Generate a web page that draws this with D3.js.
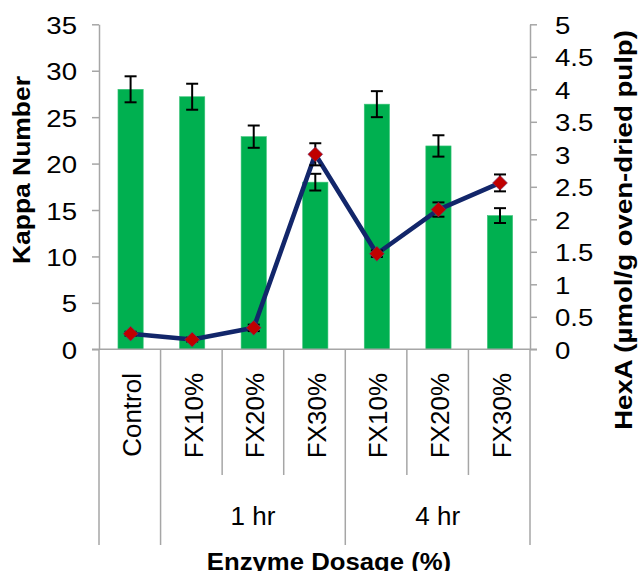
<!DOCTYPE html>
<html>
<head>
<meta charset="utf-8">
<script src="https://cdn.jsdelivr.net/npm/d3@7/dist/d3.min.js"></script>
<style>
  html, body { margin: 0; padding: 0; background: #fff; }
  svg { display: block; font-family: "Liberation Sans", Arial, sans-serif; }
</style>
</head>
<body>
<svg id="chart" width="639" height="571"></svg>
<script>
// ---- data ----
const categories = ["Control", "FX10%", "FX20%", "FX30%", "FX10%", "FX20%", "FX30%"];
const groupLabels = ["", "1 hr", "4 hr"];
const groupSizes = [1, 3, 3];
const kappa = [28.0, 27.2, 22.9, 18.0, 26.4, 21.9, 14.4];
const kappaErr = [1.4, 1.4, 1.2, 0.9, 1.4, 1.15, 0.8];
const hexa = [0.24, 0.15, 0.33, 3.0, 1.47, 2.15, 2.56];
const hexaErr = [0.03, 0.03, 0.05, 0.17, 0.05, 0.11, 0.13];
const leftTicks = [0, 5, 10, 15, 20, 25, 30, 35];
const rightTicks = [0, 0.5, 1, 1.5, 2, 2.5, 3, 3.5, 4, 4.5, 5];
const leftTitle = "Kappa Number";
const rightTitle = "HexA (µmol/g oven-dried pulp)";
const xTitle = "Enzyme Dosage (%)";

// ---- layout ----
const L = 99, R = 530, T = 24.3, B = 349.3;
const axisColor = "#a6a6a6";
const svg = d3.select("#chart");

const idx = d3.range(categories.length);
const x = d3.scaleBand().domain(idx).range([L, R]).paddingInner(0).paddingOuter(0);
const yL = d3.scaleLinear().domain([0, 35]).range([B, T]);
const yR = d3.scaleLinear().domain([0, 5]).range([B, T]);
const barW = x.bandwidth() * 0.41;
const cx = i => x(i) + x.bandwidth() / 2 + 0.8;

// bars
svg.append("g").selectAll("rect").data(idx).join("rect")
  .attr("x", i => cx(i) - barW / 2)
  .attr("y", i => yL(kappa[i]))
  .attr("width", barW)
  .attr("height", i => yL(0) - yL(kappa[i]))
  .attr("fill", "#00b050")
  .attr("stroke", "#3cc47a").attr("stroke-width", 0.6);

// bar error bars
const eb = svg.append("g").attr("stroke", "#000").attr("stroke-width", 2).attr("fill", "none");
idx.forEach(i => {
  const y1 = yL(kappa[i] + kappaErr[i]), y2 = yL(kappa[i] - kappaErr[i]);
  eb.append("line").attr("x1", cx(i)).attr("x2", cx(i)).attr("y1", y1).attr("y2", y2);
  eb.append("line").attr("x1", cx(i) - 6).attr("x2", cx(i) + 6).attr("y1", y1).attr("y2", y1);
  eb.append("line").attr("x1", cx(i) - 6).attr("x2", cx(i) + 6).attr("y1", y2).attr("y2", y2);
});

// left axis
const gL = svg.append("g").attr("transform", `translate(${L},0)`)
  .call(d3.axisLeft(yL).tickValues(leftTicks).tickSize(7).tickSizeOuter(0).tickFormat(d3.format("d")));
gL.select(".domain").attr("stroke", axisColor).attr("stroke-width", 1.5);
gL.selectAll(".tick line").attr("stroke", axisColor).attr("stroke-width", 1.5);
gL.selectAll(".tick text").remove();
gL.selectAll(".tick").append("text")
  .attr("transform", "translate(-22,9) scale(1.2,1)")
  .attr("text-anchor", "end").attr("fill", "#000")
  .style("font-size", "23px").style("font-family", "Liberation Sans, Arial, sans-serif")
  .text(d => d);

// right axis
const gR = svg.append("g").attr("transform", `translate(${R},0)`)
  .call(d3.axisRight(yR).tickValues(rightTicks).tickSize(7).tickSizeOuter(0));
gR.select(".domain").attr("stroke", axisColor).attr("stroke-width", 1.5);
gR.selectAll(".tick line").attr("stroke", axisColor).attr("stroke-width", 1.5);
gR.selectAll(".tick text").remove();
gR.selectAll(".tick").append("text")
  .attr("transform", "translate(25,9) scale(1.2,1)")
  .attr("text-anchor", "start").attr("fill", "#000")
  .style("font-size", "23px").style("font-family", "Liberation Sans, Arial, sans-serif")
  .text(d => d);

// x axis baseline
const gX = svg.append("g").attr("stroke", axisColor).attr("stroke-width", 1.5);
gX.append("line").attr("x1", L - 7).attr("x2", R + 7).attr("y1", B).attr("y2", B);

// category dividers
const groupStarts = [];
let acc = 0;
groupSizes.forEach(s => { groupStarts.push(acc); acc += s; });
const boundaries = d3.range(categories.length + 1);
boundaries.forEach(b => {
  const bx = b < categories.length ? x(b) : x(categories.length - 1) + x.bandwidth();
  const isGroup = b === categories.length || groupStarts.includes(b);
  gX.append("line").attr("x1", bx).attr("x2", bx).attr("y1", B).attr("y2", isGroup ? 545 : 475);
});

// category labels
svg.append("g").selectAll("text").data(idx).join("text")
  .attr("transform", i => `translate(${cx(i) + 10.5},373) rotate(-90)`)
  .attr("text-anchor", "end")
  .style("font-size", "26px")
  .text(i => categories[i]);

// group labels
groupLabels.forEach((g, k) => {
  if (!g) return;
  const s = groupStarts[k], e = s + groupSizes[k] - 1;
  const gx = (x(s) + x(e) + x.bandwidth()) / 2;
  svg.append("text").attr("x", gx).attr("y", 525).attr("text-anchor", "middle")
    .style("font-size", "26px").text(g);
});

// line series
const line = d3.line().x(i => cx(i)).y(i => yR(hexa[i]));
svg.append("path").datum(idx).attr("d", line)
  .attr("fill", "none").attr("stroke", "#12266a").attr("stroke-width", 4.6)
  .attr("stroke-linejoin", "round");

// line error bars
const eb2 = svg.append("g").attr("stroke", "#000").attr("stroke-width", 2).attr("fill", "none");
idx.forEach(i => {
  const y1 = yR(hexa[i] + hexaErr[i]), y2 = yR(hexa[i] - hexaErr[i]);
  eb2.append("line").attr("x1", cx(i)).attr("x2", cx(i)).attr("y1", y1).attr("y2", y2);
  eb2.append("line").attr("x1", cx(i) - 6).attr("x2", cx(i) + 6).attr("y1", y1).attr("y2", y1);
  eb2.append("line").attr("x1", cx(i) - 6).attr("x2", cx(i) + 6).attr("y1", y2).attr("y2", y2);
});

// markers
svg.append("g").selectAll("path").data(idx).join("path")
  .attr("d", d3.symbol().type(d3.symbolDiamond2).size(140))
  .attr("transform", i => `translate(${cx(i)},${yR(hexa[i])})`)
  .attr("fill", "#c00000").attr("stroke", "#6a3a7a").attr("stroke-width", 0.6);

// axis titles
svg.append("text")
  .attr("transform", "translate(30,170) rotate(-90) scale(1.15,1)")
  .attr("text-anchor", "middle").style("font-size", "23px").style("font-weight", "bold")
  .text(leftTitle);
svg.append("text")
  .attr("transform", "translate(632,230) rotate(-90) scale(1.15,1)")
  .attr("text-anchor", "middle").style("font-size", "24px").style("font-weight", "bold")
  .text(rightTitle);
svg.append("text")
  .attr("transform", "translate(329,570) scale(1.05,1)")
  .attr("text-anchor", "middle").style("font-size", "24.5px").style("font-weight", "bold")
  .text(xTitle);
</script>
</body>
</html>
